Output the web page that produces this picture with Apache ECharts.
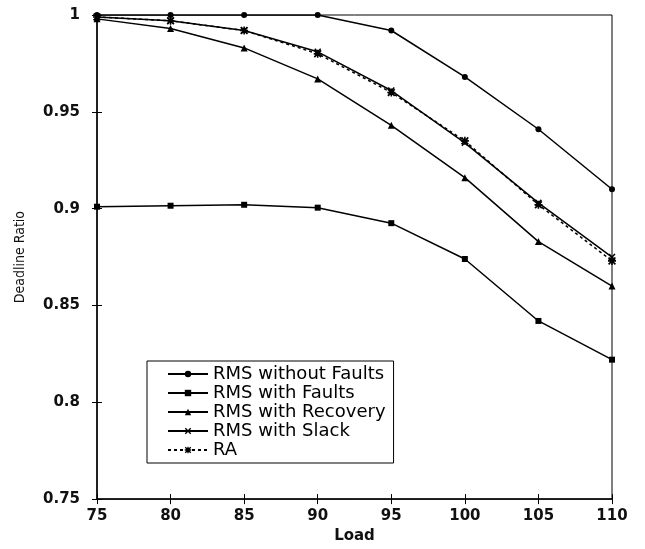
<!DOCTYPE html>
<html>
<head>
<meta charset="utf-8">
<script src="https://cdn.jsdelivr.net/npm/echarts@6/dist/echarts.min.js"></script>
<style>
  html, body { margin: 0; padding: 0; background: #fff; }
  #chart { width: 645px; height: 549px; }
</style>
</head>
<body>
<div id="chart"></div>
<script>
// values
var loads = [75, 80, 85, 90, 95, 100, 105, 110];
var noFaults = [1.0, 1.0, 1.0, 1.0, 0.992, 0.968, 0.941, 0.910];
var withFaults = [0.901, 0.9015, 0.902, 0.9005, 0.8925, 0.874, 0.842, 0.822];
var recovery = [0.998, 0.993, 0.983, 0.967, 0.943, 0.916, 0.883, 0.860];
var slack = [0.999, 0.997, 0.992, 0.981, 0.961, 0.934, 0.903, 0.875];
var ra = [0.999, 0.997, 0.992, 0.980, 0.960, 0.935, 0.902, 0.873];

var names = ['RMS without Faults', 'RMS with Faults', 'RMS with Recovery', 'RMS with Slack', 'RA'];

// filled X and asterisk shapes
var xSym = 'path://M0,1.5L1.5,0L5,3.5L8.5,0L10,1.5L6.5,5L10,8.5L8.5,10L5,6.5L1.5,10L0,8.5L3.5,5Z';
var starSym = 'path://M0,1.5L1.5,0L5,3.5L8.5,0L10,1.5L6.5,5L10,8.5L8.5,10L5,6.5L1.5,10L0,8.5L3.5,5Z' +
    'M4,0L6,0L6,10L4,10ZM0,4L10,4L10,6L0,6Z';

function pairs(vals) {
    return loads.map(function (x, i) { return [x, vals[i]]; });
}

function line(name, vals, symbol, size, dashed) {
    return {
        name: name,
        type: 'line',
        data: pairs(vals),
        symbol: symbol,
        symbolSize: size,
        lineStyle: { color: '#000', width: 1.5, type: dashed ? [3, 3] : 'solid' },
        itemStyle: { color: '#000', borderColor: '#000', borderWidth: 0 }
    };
}

var myChart = echarts.init(document.getElementById('chart'));
var tickFont = { fontFamily: 'DejaVu Sans', fontSize: 15, fontWeight: 'bold', color: '#111' };

var option = {
    animation: false,
    backgroundColor: '#fff',
    grid: {
        left: 97, right: 33, top: 15, bottom: 39,
        show: true, borderColor: '#000', borderWidth: 1
    },
    legend: {
        orient: 'vertical',
        left: 147,
        top: 361,
        data: names,
        backgroundColor: '#fff',
        borderColor: '#000',
        borderWidth: 1,
        padding: [4, 8, 4, 20],
        itemWidth: 40,
        itemHeight: 8,
        itemGap: 1,
        textStyle: { fontFamily: 'DejaVu Sans', fontSize: 18, color: '#000' }
    },
    xAxis: [
        {
            type: 'value', min: 75, max: 110, interval: 5,
            name: 'Load', nameLocation: 'middle', nameGap: 29,
            nameTextStyle: { fontFamily: 'DejaVu Sans', fontSize: 15, fontWeight: 'bold', color: '#111' },
            axisLine: { show: true, lineStyle: { color: '#000', width: 1.5 } },
            axisTick: { show: true, length: 5, lineStyle: { color: '#000' } },
            axisLabel: Object.assign({ margin: 10 }, tickFont),
            splitLine: { show: false }
        },
        {
            type: 'value', min: 75, max: 110, interval: 5, position: 'bottom',
            axisLine: { show: false },
            axisTick: { show: true, inside: true, length: 5, lineStyle: { color: '#000' } },
            axisLabel: { show: false },
            splitLine: { show: false }
        }
    ],
    yAxis: [
        {
            type: 'value', min: 0.75, max: 1, interval: 0.05,
            name: 'Deadline Ratio', nameLocation: 'middle', nameGap: 70,
            nameMoveOverlap: false,
            nameTextStyle: { fontFamily: 'DejaVu Sans Condensed, Liberation Sans', fontSize: 14, color: '#111' },
            axisLine: { show: true, lineStyle: { color: '#000', width: 1.5 } },
            axisTick: { show: true, length: 5, lineStyle: { color: '#000' } },
            axisLabel: Object.assign({ margin: 17 }, tickFont),
            splitLine: { show: false }
        },
        {
            type: 'value', min: 0.75, max: 1, interval: 0.05, position: 'left',
            axisLine: { show: false },
            axisTick: { show: true, inside: true, length: 5, lineStyle: { color: '#000' } },
            axisLabel: { show: false },
            splitLine: { show: false }
        }
    ],
    series: [
        line(names[0], noFaults, 'circle', 6, false),
        line(names[1], withFaults, 'rect', 6, false),
        line(names[2], recovery, 'triangle', 7, false),
        line(names[3], slack, xSym, 7, false),
        line(names[4], ra, starSym, 8, true)
    ]
};
myChart.setOption(option);
</script>
</body>
</html>
